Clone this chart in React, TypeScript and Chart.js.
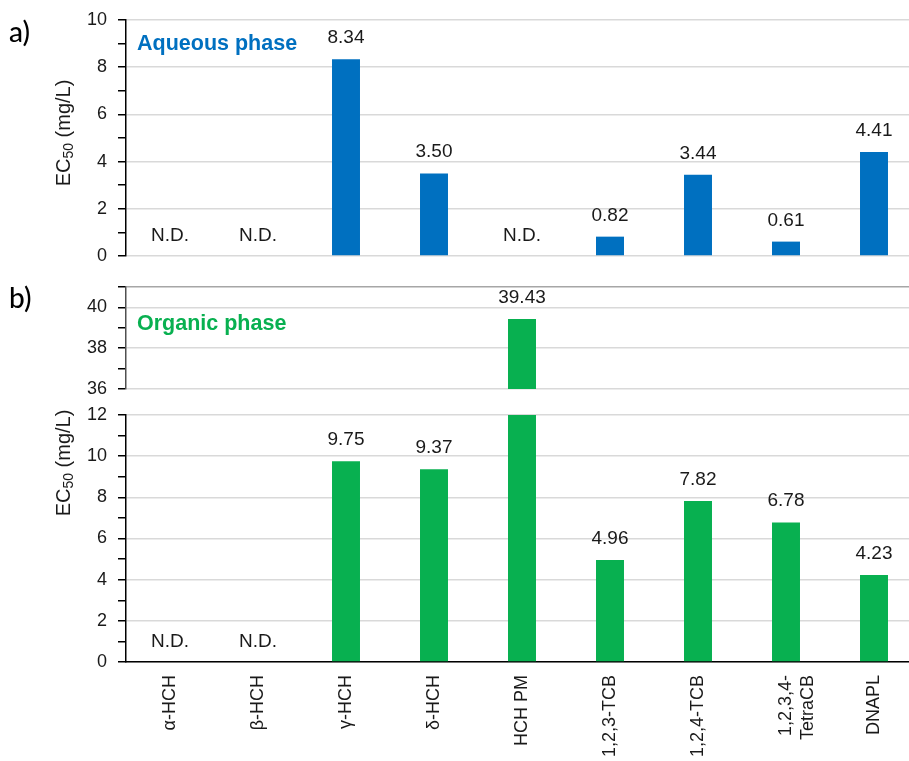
import React, { useEffect, useRef } from 'react';
import { Chart, registerables } from 'chart.js';

Chart.register(...registerables);

const FONT = "'Liberation Sans', Arial, sans-serif";

const CATEGORIES: (string | string[])[] = [
  'α-HCH', 'β-HCH', 'γ-HCH', 'δ-HCH', 'HCH PM', '1,2,3-TCB', '1,2,4-TCB', ['1,2,3,4-', 'TetraCB'], 'DNAPL',
];
const AQUEOUS: (number | null)[] = [null, null, 8.34, 3.5, null, 0.82, 3.44, 0.61, 4.41];
const ORGANIC: (number | null)[] = [null, null, 9.75, 9.37, 39.43, 4.96, 7.82, 6.78, 4.23];
const AQUEOUS_ND = [0, 1, 4];
const ORGANIC_ND = [0, 1];

const BLUE = '#0070C0';
const GREEN = '#08B050';
const TEXT = '#1a1a1a';
const GRID = '#d9d9d9';

function drawYTitle(ctx: CanvasRenderingContext2D, cx: number, cy: number) {
  const big = `20px ${FONT}`;
  const small = `14px ${FONT}`;
  ctx.save();
  ctx.translate(cx, cy);
  ctx.rotate(-Math.PI / 2);
  ctx.font = big;
  const w1 = ctx.measureText('EC').width;
  const w3 = ctx.measureText(' (mg/L)').width;
  ctx.font = small;
  const w2 = ctx.measureText('50').width;
  let x = -(w1 + w2 + w3) / 2;
  ctx.fillStyle = TEXT;
  ctx.textBaseline = 'alphabetic';
  ctx.textAlign = 'left';
  ctx.font = big;
  ctx.fillText('EC', x, 7);
  x += w1;
  ctx.font = small;
  ctx.fillText('50', x, 10);
  x += w2;
  ctx.font = big;
  ctx.fillText(' (mg/L)', x, 7);
  ctx.restore();
}

const annotations = {
  id: 'annotations',
  afterDatasetsDraw(chart: any, _args: any, opts: any) {
    const { ctx, scales } = chart;
    const xs = scales.x;
    const ys = scales.y;
    const data = chart.data.datasets[0].data as (number | null)[];
    ctx.save();
    ctx.font = `19px ${FONT}`;
    ctx.fillStyle = TEXT;
    ctx.textAlign = 'center';
    ctx.textBaseline = 'alphabetic';
    data.forEach((v, i) => {
      const x = xs.getPixelForValue(i);
      if (v == null) {
        if (opts.nd && opts.nd.includes(i)) {
          ctx.fillText('N.D.', x, ys.getPixelForValue(ys.min) - 15);
        }
        return;
      }
      if (v > ys.max || v < ys.min) return;
      ctx.fillText(v.toFixed(2), x, ys.getPixelForValue(v) - 16);
    });
    (opts.texts || []).forEach((t: any) => {
      ctx.font = t.font;
      ctx.fillStyle = t.color;
      ctx.textAlign = 'left';
      ctx.fillText(t.text, t.x, t.y);
    });
    if (opts.yTitle) drawYTitle(ctx, opts.yTitle.x, opts.yTitle.y);
    ctx.restore();
  },
};

function makeConfig(p: {
  data: (number | null)[];
  color: string;
  min: number;
  max: number;
  darkTop?: number;
  showX: boolean;
  padTop: number;
  padBottom: number;
  xHeight?: number;
  axisColor: string;
  plugin: any;
}) {
  return {
    type: 'bar' as const,
    data: {
      labels: CATEGORIES,
      datasets: [
        {
          data: p.data,
          backgroundColor: p.color,
          borderWidth: 0,
          categoryPercentage: 1,
          barPercentage: 0.318,
        },
      ],
    },
    plugins: [annotations],
    options: {
      responsive: false,
      animation: false,
      devicePixelRatio: 1,
      layout: {
        autoPadding: false,
        padding: { top: p.padTop, bottom: p.showX ? 0 : p.padBottom, left: 0, right: 2 },
      },
      plugins: { legend: { display: false }, tooltip: { enabled: false }, annotations: p.plugin },
      scales: {
        x: {
          display: p.showX,
          offset: true,
          grid: { display: false, drawTicks: false },
          border: { display: true, color: '#000', width: 1.5 },
          ticks: {
            autoSkip: false,
            maxRotation: 90,
            minRotation: 90,
            padding: 13,
            color: TEXT,
            font: { family: FONT, size: 18 },
          },
          afterFit: (s: any) => {
            if (p.xHeight) s.height = p.xHeight;
            s.paddingLeft = 0;
            s.paddingRight = 0;
          },
        },
        y: {
          min: p.min,
          max: p.max,
          ticks: {
            stepSize: 1,
            autoSkip: false,
            padding: 11,
            color: TEXT,
            font: { family: FONT, size: 18 },
            callback: (v: any) => (Number(v) % 2 === 0 ? String(v) : ''),
          },
          grid: {
            lineWidth: 1.5,
            tickLength: 8,
            tickWidth: 1.5,
            tickColor: '#000',
            color: (c: any) => {
              const v = c.tick ? c.tick.value : 0;
              if (p.darkTop !== undefined && v === p.darkTop) return '#a6a6a6';
              return v % 2 === 0 ? GRID : 'rgba(0,0,0,0)';
            },
          },
          border: { display: true, color: p.axisColor, width: 1.5 },
          afterFit: (s: any) => {
            s.width = 126;
            s.paddingTop = 0;
            s.paddingBottom = 0;
          },
        },
      },
    },
  };
}

export default function App() {
  const r1 = useRef<HTMLCanvasElement>(null);
  const r2 = useRef<HTMLCanvasElement>(null);
  const r3 = useRef<HTMLCanvasElement>(null);

  useEffect(() => {
    const c1 = new Chart(
      r1.current as HTMLCanvasElement,
      makeConfig({
        data: AQUEOUS,
        color: BLUE,
        min: 0,
        max: 10,
        showX: false,
        padTop: 20,
        padBottom: 24,
        axisColor: '#000',
        plugin: {
          nd: AQUEOUS_ND,
          texts: [
            { text: 'Aqueous phase', x: 137, y: 50, font: `bold 21.5px ${FONT}`, color: BLUE },
            { text: 'a)', x: 9, y: 42, font: `500 28px Lato, 'Open Sans', sans-serif`, color: '#000' },
          ],
          yTitle: { x: 63, y: 133 },
        },
      }) as any
    );
    const c2 = new Chart(
      r2.current as HTMLCanvasElement,
      makeConfig({
        data: ORGANIC,
        color: GREEN,
        min: 36,
        max: 41,
        darkTop: 41,
        showX: false,
        padTop: 17,
        padBottom: 21,
        axisColor: '#505050',
        plugin: {
          nd: [],
          texts: [
            { text: 'Organic phase', x: 137, y: 60, font: `bold 21.5px ${FONT}`, color: GREEN },
            { text: 'b)', x: 9, y: 38, font: `500 28px Lato, 'Open Sans', sans-serif`, color: '#000' },
          ],
        },
      }) as any
    );
    const c3 = new Chart(
      r3.current as HTMLCanvasElement,
      makeConfig({
        data: ORGANIC,
        color: GREEN,
        min: 0,
        max: 12,
        showX: true,
        padTop: 15,
        padBottom: 0,
        xHeight: 118,
        axisColor: '#000',
        plugin: { nd: ORGANIC_ND, yTitle: { x: 63, y: 63 } },
      }) as any
    );
    return () => {
      c1.destroy();
      c2.destroy();
      c3.destroy();
    };
  }, []);

  return (
    <div
      style={{
        position: 'fixed',
        left: 0,
        top: 0,
        width: 909,
        height: 761,
        overflow: 'hidden',
        background: '#fff',
      }}
    >
      <canvas ref={r1} width={920} height={280} style={{ position: 'absolute', left: 0, top: 0 }} />
      <canvas ref={r2} width={920} height={140} style={{ position: 'absolute', left: 0, top: 270 }} />
      <canvas ref={r3} width={920} height={380} style={{ position: 'absolute', left: 0, top: 400 }} />
    </div>
  );
}
